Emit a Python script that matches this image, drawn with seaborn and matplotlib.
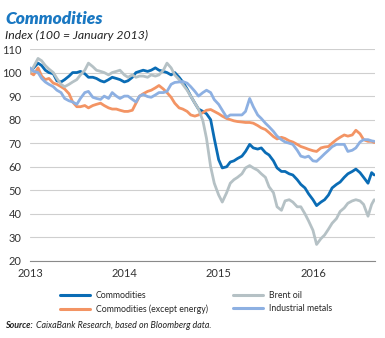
import matplotlib
matplotlib.use("Agg")
import matplotlib.pyplot as plt
import numpy as np
import pandas as pd
import seaborn as sns

# Semi-monthly observation dates, Jan 2013 - Aug 2016
dates = pd.to_datetime(
    [f"{y}-{m:02d}-{d:02d}" for y in range(2013, 2017) for m in range(1, 13) for d in (1, 15)
     if not (y == 2016 and m > 8)] + ["2016-08-25"]
)

commodities = [
    100, 102, 104, 103, 101, 100, 99.5, 96.5, 96, 97, 98.5, 100, 100, 100.5, 99.5, 98,
    98, 97.5, 96.5, 96, 97, 98, 97.5, 97,
    96, 96.5, 98, 100, 100.5, 101, 100.5, 101, 102, 101, 100.5, 100, 99, 100, 98, 96,
    93, 90, 87, 84.5, 83.5, 82.5, 80, 72,
    63, 59.5, 60, 62, 62.5, 63.5, 64.5, 66.5, 69.5, 68, 67.5, 68, 66, 65, 62.5, 59.5,
    58, 58, 57, 56.5, 54.5, 52.5, 51, 48.5,
    46, 43.5, 45, 46, 48, 51, 52.5, 53.5, 55.5, 57, 58, 59, 57.5, 55.5, 53, 57.5, 56.5,
]

commodities_ex_energy = [
    100, 99, 102, 98.5, 97, 97.5, 95.5, 95, 94, 93, 91, 87.5, 85.5, 85.5, 86, 85,
    86, 86.5, 87, 86, 85, 84.5, 84.5, 84,
    83.5, 83.5, 84, 87, 90, 91, 92, 92.5, 93.5, 94.5, 93, 91.5, 89.5, 87, 85, 84.5,
    83.5, 82, 81.5, 82, 83, 84, 84.3, 83.5,
    82.5, 81.5, 80.5, 80, 79.5, 79.2, 79, 78.8, 78.8, 78.5, 77.5, 76.5, 75.8, 74.5, 72.8, 71.8,
    72.5, 72, 71, 70.5, 69.5, 68.6, 68, 67.4,
    66.8, 66.5, 68, 68.4, 68.6, 70, 71.5, 72.5, 73.5, 73, 73.5, 75.5, 74, 71.5, 70.8, 70.8, 70.3,
]

brent_oil = [
    100, 102.5, 106, 105, 103, 101.5, 100, 97.5, 95, 94, 95, 96, 97, 99, 101, 104,
    102.5, 101, 100.5, 100, 99, 100, 100.5, 101,
    99, 98, 99, 98, 98.5, 98.5, 98, 99, 98.5, 99, 101, 104, 102, 99, 97, 95,
    92.5, 90, 87, 84.5, 79.5, 72, 60, 53,
    48, 45, 49, 53, 54.5, 55.5, 57, 59.5, 60.5, 59.5, 58.5, 57, 55.5, 51.5, 49, 43,
    41.5, 45.5, 46, 45, 43, 43, 40, 37,
    33, 27, 29.5, 31, 33.5, 36, 38, 41, 42.5, 44.5, 45.5, 46, 45.5, 44, 39, 44, 46,
]

industrial_metals = [
    102, 100.5, 100, 97.5, 96, 95, 94, 92.5, 91.5, 89, 88, 87.5, 86.5, 89, 91.5, 92,
    89.5, 89, 88.6, 90, 89, 91.5, 90, 89,
    90, 90, 88.6, 87.5, 90, 90.7, 89.8, 89.5, 90.5, 91.5, 91.5, 92, 95, 95.8, 96, 96.2,
    95.5, 94, 92, 90, 91.5, 92.5, 91.5, 88.5,
    86.5, 84, 81, 82, 82, 82, 82, 83.5, 89, 85.5, 82, 80.5, 78.5, 77, 75, 73,
    71.5, 70.5, 70, 69.5, 67, 64.5, 64, 64.5,
    62.5, 62.3, 64, 65.5, 67, 68.5, 69.5, 69.5, 69.5, 66.5, 67, 68, 70.5, 71.5, 71.5, 71, 70.8,
]

series_names = ["Commodities", "Commodities (except energy)", "Brent oil", "Industrial metals"]
series_colors = ["#0a6cb5", "#f39464", "#b5c1c5", "#8db0e2"]
y_ticks = [20, 30, 40, 50, 60, 70, 80, 90, 100, 110]
x_ticks = ["2013", "2014", "2015", "2016"]

frame = pd.DataFrame({
    "date": np.tile(dates, 4),
    "value": commodities + commodities_ex_energy + brent_oil + industrial_metals,
    "series": np.repeat(series_names, len(dates)),
})

sns.set_style("white")
plt.rcParams["font.family"] = ["Lato", "DejaVu Sans"]

fig = plt.figure(figsize=(3.85, 3.38), dpi=100)
ax = fig.add_axes([0.078, 0.228, 0.896, 0.627])

sns.lineplot(data=frame, x="date", y="value", hue="series", hue_order=series_names,
             palette=series_colors, linewidth=2.0, ax=ax, legend=False)

ax.set_ylim(20, 110)
ax.set_yticks(y_ticks)
ax.set_xlim(pd.Timestamp("2013-01-01"), pd.Timestamp("2016-08-28"))
ax.set_xticks(pd.to_datetime([f"{y}-01-01" for y in x_ticks]))
ax.set_xticklabels(x_ticks)
ax.set_xlabel("")
ax.set_ylabel("")
ax.yaxis.grid(True, color="#cfcfcf", linewidth=0.8)
ax.set_axisbelow(True)
for side in ("left", "right", "top"):
    ax.spines[side].set_visible(False)
ax.spines["bottom"].set_color("#8a8a8a")
ax.spines["bottom"].set_linewidth(0.8)
ax.tick_params(axis="y", length=0, labelsize=8, colors="#333333", pad=6)
ax.tick_params(axis="x", direction="in", length=3, width=0.8, color="#8a8a8a",
               labelsize=8, labelcolor="#333333", pad=5)

handles = [plt.Line2D([], [], color=c, linewidth=2.2) for c in series_colors]
fig.legend(handles, series_names, ncol=2, loc="upper left", bbox_to_anchor=(0.135, 0.162),
           frameon=False, fontsize=6.3, handlelength=3.4, handletextpad=0.7,
           columnspacing=2.9, labelspacing=0.45)

fig.text(0.013, 0.968, "Commodities", fontsize=12.5, fontweight="heavy", fontstyle="italic",
         color="#1a78c2", va="top")
fig.text(0.013, 0.912, "Index (100 = January 2013)", fontsize=8.8, fontstyle="italic",
         color="#222222", va="top")
fig.text(0.013, 0.038, "Source:", fontsize=6.4, fontweight="bold", fontstyle="italic",
         color="#222222", va="center")
fig.text(0.093, 0.038, "CaixaBank Research, based on Bloomberg data.", fontsize=6.4,
         fontstyle="italic", color="#222222", va="center")

fig.savefig("out.png", dpi=100)
